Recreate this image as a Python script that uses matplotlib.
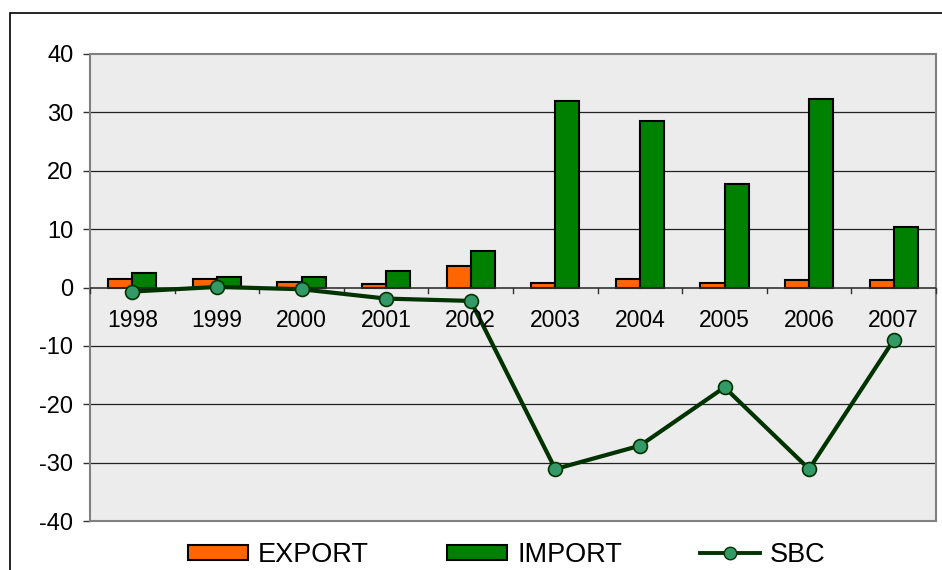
import matplotlib
matplotlib.use("Agg")
import matplotlib.pyplot as plt
import numpy as np
from matplotlib.patches import Rectangle
from matplotlib.lines import Line2D
from matplotlib.patches import Patch

plt.rcParams['font.family'] = ['Liberation Sans', 'DejaVu Sans']

years = ['1998', '1999', '2000', '2001', '2002', '2003', '2004', '2005', '2006', '2007']
export_vals = [1.5, 1.4, 1.0, 0.6, 3.6, 0.8, 1.5, 0.7, 1.2, 1.2]
import_vals = [2.5, 1.8, 1.8, 2.9, 6.2, 31.9, 28.6, 17.8, 32.3, 10.4]
sbc_vals = [-0.7, 0.1, -0.3, -1.9, -2.3, -31.1, -27.1, -17.1, -31.1, -9.0]
yticks = [-40, -30, -20, -10, 0, 10, 20, 30, 40]

fig = plt.figure(figsize=(9.42, 5.70), dpi=100)
fig.patch.set_facecolor('white')

# outer chart border (cut off at right/bottom)
fig.add_artist(Rectangle((10/942, -0.1), 1.2, 1 - 13/570 + 0.1, transform=fig.transFigure,
                         fill=False, edgecolor='black', linewidth=1.2))

ax = fig.add_axes([90/942, 1 - 521/570, (936 - 90)/942, (521 - 54)/570])
ax.set_facecolor('#ececec')

x = np.arange(len(years))
w = 0.285
ax.bar(x - w/2, export_vals, width=w, color='#FF6600', edgecolor='black', linewidth=1.5, zorder=3)
ax.bar(x + w/2, import_vals, width=w, color='#008000', edgecolor='black', linewidth=1.5, zorder=3)
ax.plot(x, sbc_vals, color='#003300', linewidth=3.0, marker='o', markersize=10,
        markerfacecolor='#339966', markeredgecolor='#003300', markeredgewidth=1.2, zorder=5)

ax.set_xlim(-0.5, len(years) - 0.5)
ax.set_ylim(-40, 40)
ax.set_yticks(yticks)
ax.set_yticklabels([str(v) for v in yticks], fontsize=17)
ax.tick_params(axis='y', direction='out', length=5, width=1, color='#333333', pad=7)

for v in yticks:
    if v not in (-40, 40, 0):
        ax.axhline(v, color='#222222', linewidth=0.9, zorder=1)
ax.axhline(0, color='#333333', linewidth=1.2, zorder=4)

# x-axis on zero line with tick marks at category boundaries
ax.set_xticks([])
for b in np.arange(-0.5, len(years), 1.0):
    ax.plot([b, b], [0, -0.9], color='#333333', linewidth=1, zorder=4, clip_on=False)
for i, yr in enumerate(years):
    ax.text(x[i], -5.6, yr, ha='center', va='center', fontsize=16.5, zorder=6)

for s in ax.spines.values():
    s.set_color('#808080')
    s.set_linewidth(1.5)

handles = [Patch(facecolor='#FF6600', edgecolor='black', linewidth=1.5),
           Patch(facecolor='#008000', edgecolor='black', linewidth=1.5),
           Line2D([0], [0], color='#003300', linewidth=2.8, marker='o', markersize=9,
                  markerfacecolor='#339966', markeredgecolor='#003300')]
fig.legend(handles, ['EXPORT', 'IMPORT', 'SBC'], loc='center', bbox_to_anchor=(507/942, 1 - 555/570),
           ncol=3, frameon=False, fontsize=19.5, columnspacing=2.9, handlelength=2.2,
           handleheight=0.52, handletextpad=0.37, borderpad=0.1)

fig.savefig('out.png', dpi=100)
